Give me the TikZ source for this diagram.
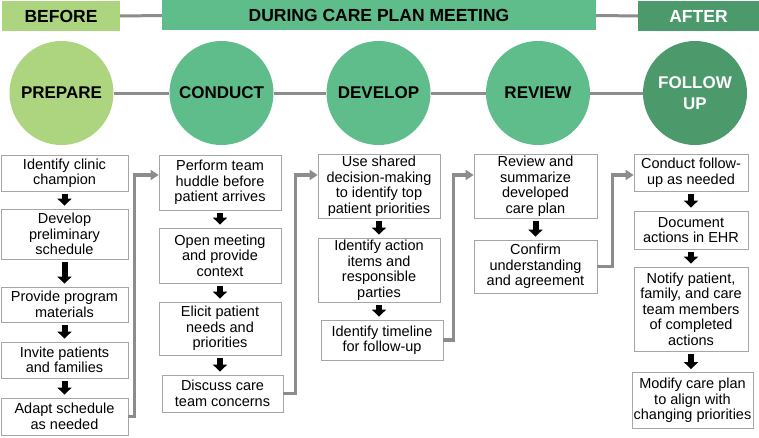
\documentclass[tikz,border=0pt]{standalone}
\usepackage{fontspec}
\setmainfont{Liberation Sans}
\usetikzlibrary{arrows.meta}
\definecolor{lgreen}{HTML}{ADD580}
\definecolor{mgreen}{HTML}{5EBD8A}
\definecolor{dgreen}{HTML}{4C9A6C}
\definecolor{conn}{HTML}{8C8C8C}
\definecolor{boxline}{HTML}{A6A6A6}
\begin{document}
\begin{tikzpicture}[x=1pt,y=-1pt,
 hdr/.style={minimum height=30pt, inner sep=0pt, font=\fontsize{17.5}{20}\selectfont\bfseries},
 phase/.style={circle, minimum size=104pt, inner sep=0pt, font=\fontsize{17}{21}\selectfont\bfseries, align=center},
 stepbox/.style={draw=boxline, line width=0.8pt, fill=white, inner sep=0pt, align=center, font=\fontsize{14.5}{15.5}\selectfont},
 down/.style={draw=black, line width=6pt, -{Triangle[width=14pt,length=7pt]}},
 link/.style={draw=conn, line width=3pt},
 flow/.style={draw=conn, line width=3.5pt, -{Triangle[width=10pt,length=8pt]}},
]
\fill[white] (0,0) rectangle (759,437);
\useasboundingbox (0,0) rectangle (759,437);
\coordinate (lane) at (0,175);

% header
\node[hdr, fill=lgreen, minimum width=118pt] (before) at (61,16) {BEFORE};
\node[hdr, fill=mgreen, minimum width=434pt] (during) at (379,15) {DURING CARE PLAN MEETING};
\node[hdr, fill=dgreen, minimum width=121pt, text=white] (after) at (698.5,16) {AFTER};
\draw[link] (before) -- (during);
\draw[link] (during) -- (after);

% phases
\node[phase, fill=lgreen] (p1) at (61.5,93) {PREPARE};
\node[phase, fill=mgreen] (p2) at (221.5,93) {CONDUCT};
\node[phase, fill=mgreen] (p3) at (378.5,93) {DEVELOP};
\node[phase, fill=mgreen] (p4) at (538,93) {REVIEW};
\node[phase, fill=dgreen, text=white] (p5) at (695,93) {FOLLOW\\UP};
\draw[link] (p1) -- (p2);
\draw[link] (p2) -- (p3);
\draw[link] (p3) -- (p4);
\draw[link] (p4) -- (p5);

% column 1
\node[stepbox, minimum width=127pt, minimum height=36pt] (a1) at (64.5,173) {Identify clinic\\champion};
\node[stepbox, minimum width=127pt, minimum height=50pt] (a2) at (64.5,234) {Develop\\preliminary\\schedule};
\node[stepbox, minimum width=127pt, minimum height=35pt] (a3) at (64.5,304.5) {Provide program\\materials};
\node[stepbox, minimum width=127pt, minimum height=36pt] (a4) at (64.5,360) {Invite patients\\and families};
\node[stepbox, minimum width=127pt, minimum height=37pt] (a5) at (64.5,416.5) {Adapt schedule\\as needed};

% column 2
\node[stepbox, minimum width=122pt, minimum height=55pt] (b1) at (220,182.5) {Perform team\\huddle before\\patient arrives};
\node[stepbox, minimum width=122pt, minimum height=55pt] (b2) at (220,255.5) {Open meeting\\and provide\\context};
\node[stepbox, minimum width=122pt, minimum height=53pt] (b3) at (220,328.5) {Elicit patient\\needs and\\priorities};
\node[stepbox, minimum width=121pt, minimum height=37pt] (b4) at (222.5,393.5) {Discuss care\\team concerns};

% column 3
\node[stepbox, minimum width=122pt, minimum height=64pt] (c1) at (379,186) {Use shared\\decision-making\\to identify top\\patient priorities};
\node[stepbox, minimum width=122pt, minimum height=64pt] (c2) at (379,270) {Identify action\\items and\\responsible\\parties};
\node[stepbox, minimum width=122pt, minimum height=40pt] (c3) at (382,340) {Identify timeline\\for follow-up};

% column 4
\node[stepbox, minimum width=123pt, minimum height=64pt] (d1) at (535.5,186) {Review and\\summarize\\developed\\care plan};
\node[stepbox, minimum width=123pt, minimum height=53pt] (d2) at (535.5,266.5) {Confirm\\understanding\\and agreement};

% column 5
\node[stepbox, minimum width=114pt, minimum height=37pt] (e1) at (691,172.5) {Conduct follow-\\up as needed};
\node[stepbox, minimum width=114pt, minimum height=38pt] (e2) at (691,230) {Document\\actions in EHR};
\node[stepbox, minimum width=114pt, minimum height=84pt] (e3) at (691,309) {Notify patient,\\family, and care\\team members\\of completed\\actions};
\node[stepbox, minimum width=121pt, minimum height=56pt] (e4) at (692.5,400.5) {Modify care plan\\to align with\\changing priorities};

% down arrows
\foreach \u/\v in {a1/a2,a2/a3,a3/a4,a4/a5,b1/b2,b2/b3,b3/b4,c1/c2,c2/c3,d1/d2,e1/e2,e2/e3,e3/e4}{
  \draw[down] ([yshift=-3pt]\u.south) -- ([yshift=3pt]\v.north -| \u.south);
}

% flow connectors
\draw[flow] (a5.east) -- ++(6,0) |- (b1.west |- lane);
\draw[flow] (b4.east) -- ++(12,0) |- (c1.west |- lane);
\draw[flow] (c3.east) -- ++(10,0) |- (d1.west |- lane);
\draw[flow] (d2.east) -- ++(15,0) |- (e1.west |- lane);
\end{tikzpicture}
\end{document}
